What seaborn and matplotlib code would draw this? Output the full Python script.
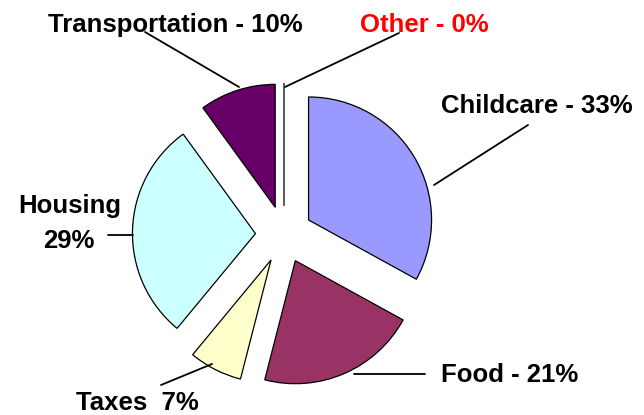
import matplotlib
matplotlib.use("Agg")
import matplotlib.pyplot as plt
import seaborn as sns

# ==============================================================
#  DATA
# ==============================================================

categories = ["Childcare", "Food", "Taxes", "Housing", "Transportation", "Other"]
shares = [33, 21, 7, 29, 10, 0]
slice_colors = ["#9999FF", "#993366", "#FFFFCC", "#CCFFFF", "#660066", "#FFFFFF"]
label_texts = ["Childcare - 33%", "Food - 21%", "Taxes  7%", "Housing\n29%",
               "Transportation - 10%", "Other - 0%"]
label_colors = ["black", "black", "black", "black", "black", "#FF0000"]

# ==============================================================
#  LAYOUT (pixel helpers)
# ==============================================================

W, H = 644, 415
CX, CY, R = 284, 234.5, 123.0


def px(x, y):
    # pixel position -> data coords (pie centre at origin, radius 1)
    return (x - CX) / R, (CY - y) / R


# label anchor (text baseline centre) and leader line (text end, slice end)
label_pos = {
    "Childcare": (537, 113),
    "Food": (510, 382),
    "Taxes": (137, 410),
    "Transportation": (175, 32),
    "Other": (424, 32),
}
leaders = {
    "Childcare": ((528, 125), (434, 185)),
    "Food": ((425, 374), (354, 374)),
    "Taxes": ((161, 385), (212, 364)),
    "Housing": ((108, 235), (133, 235)),
    "Transportation": ((145, 32), (239, 87)),
    "Other": ((399, 33), (285, 87)),
}

# ==============================================================
#  PLOT
# ==============================================================

sns.set_theme(style="white")
plt.rcParams["font.family"] = ["Liberation Sans", "DejaVu Sans"]

fig = plt.figure(figsize=(W / 100, H / 100), dpi=100)
ax = fig.add_axes([0, 0, 1, 1])

ax.pie(
    shares,
    colors=slice_colors,
    startangle=90,
    counterclock=False,
    explode=[0.232] * len(shares),
    radius=1.0,
    wedgeprops=dict(edgecolor="black", linewidth=0.9),
)

ax.set_aspect("auto")
x0, y0 = px(0, H)
x1, y1 = px(W, 0)
ax.set_xlim(x0, x1)
ax.set_ylim(y0, y1)
ax.axis("off")

font = dict(fontsize=18.5, fontweight="bold")

for cat, txt, col in zip(categories, label_texts, label_colors):
    if cat == "Housing":
        ax.text(*px(70, 213), "Housing", ha="center", va="baseline", color=col, **font)
        ax.text(*px(69, 248), "29%", ha="center", va="baseline", color=col, **font)
    else:
        ax.text(*px(*label_pos[cat]), txt, ha="center", va="baseline", color=col, **font)
    (a, b) = leaders[cat]
    ax.plot([px(*a)[0], px(*b)[0]], [px(*a)[1], px(*b)[1]], color="black", lw=1.3)

fig.savefig("out.png", dpi=100, facecolor="white")
